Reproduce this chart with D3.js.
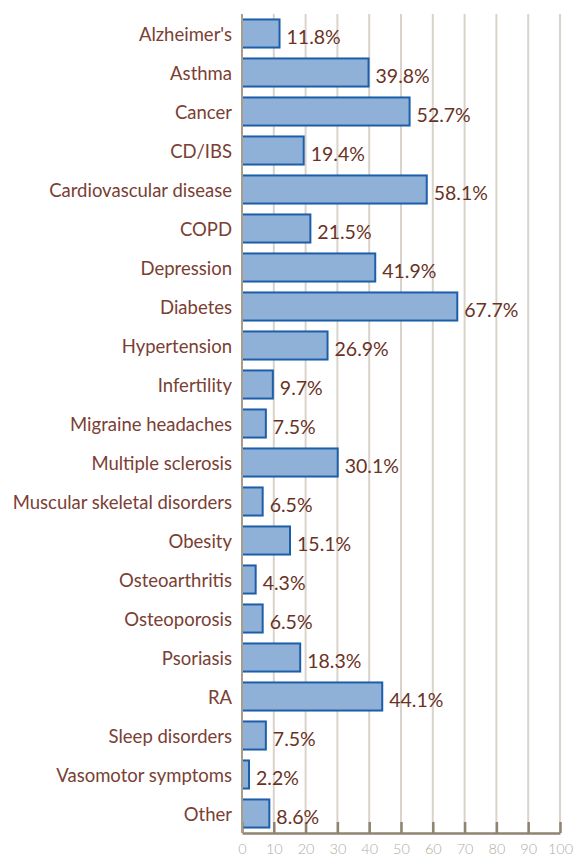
<!DOCTYPE html>
<html>
<head>
<meta charset="utf-8">
<script src="https://cdn.jsdelivr.net/npm/d3@7"></script>
<style>
  body { margin: 0; background: #fff; }
</style>
</head>
<body>
<div id="chart"></div>
<script>
// chart data
var categories = [
  "Alzheimer's", "Asthma", "Cancer", "CD/IBS", "Cardiovascular disease",
  "COPD", "Depression", "Diabetes", "Hypertension", "Infertility",
  "Migraine headaches", "Multiple sclerosis", "Muscular skeletal disorders",
  "Obesity", "Osteoarthritis", "Osteoporosis", "Psoriasis", "RA",
  "Sleep disorders", "Vasomotor symptoms", "Other"
];
var values = [
  11.8, 39.8, 52.7, 19.4, 58.1,
  21.5, 41.9, 67.7, 26.9, 9.7,
  7.5, 30.1, 6.5,
  15.1, 4.3, 6.5, 18.3, 44.1,
  7.5, 2.2, 8.6
];
var tickValues = [0, 10, 20, 30, 40, 50, 60, 70, 80, 90, 100];

var svgWidth = 576;
var svgHeight = 859;

var margin = { top: 14, right: 16, bottom: 26, left: 242 };
var width = svgWidth - margin.left - margin.right;
var height = svgHeight - margin.top - margin.bottom;

var data = categories.map(function(c, i) { return { name: c, value: values[i] }; });

var svg = d3.select("#chart")
  .append("svg")
  .attr("width", svgWidth)
  .attr("height", svgHeight);

var chartGroup = svg.append("g")
  .attr("transform", `translate(${margin.left}, ${margin.top})`);

// scales
var xScale = d3.scaleLinear().domain([0, 100]).range([0, width]);
var yScale = d3.scaleBand()
  .domain(categories)
  .range([0, height])
  .paddingInner(0.28)
  .paddingOuter(0.14);

// gridlines
chartGroup.selectAll("line.grid")
  .data(tickValues.slice(1))
  .enter()
  .append("line")
  .attr("class", "grid")
  .attr("x1", d => xScale(d))
  .attr("x2", d => xScale(d))
  .attr("y1", 0)
  .attr("y2", height)
  .attr("stroke", "#d9d3cb")
  .attr("stroke-width", 2);

// bars
chartGroup.selectAll("rect.bar")
  .data(data)
  .enter()
  .append("rect")
  .attr("class", "bar")
  .attr("x", xScale(0))
  .attr("y", d => yScale(d.name))
  .attr("width", d => xScale(d.value) - xScale(0))
  .attr("height", yScale.bandwidth())
  .attr("fill", "#8fb0d7")
  .attr("stroke", "#1d5ea9")
  .attr("stroke-width", 2);

// x axis
var xAxis = d3.axisBottom(xScale)
  .tickValues(tickValues)
  .tickSize(-11)
  .tickPadding(8)
  .tickSizeOuter(0);

var xAxisGroup = chartGroup.append("g")
  .attr("transform", `translate(0, ${height})`)
  .call(xAxis);

xAxisGroup.select(".domain").attr("stroke", "#8f8371").attr("stroke-width", 2.5);
xAxisGroup.selectAll(".tick line").attr("stroke", "#8f8371").attr("stroke-width", 2.5);
xAxisGroup.selectAll(".tick text")
  .attr("fill", "#b3ab9e")
  .attr("font-size", "14.5px")
  .attr("font-weight", 300)
  .attr("font-family", "Lato, sans-serif")
  .attr("dy", "0.9em");

// left axis line
chartGroup.append("line")
  .attr("x1", 0)
  .attr("x2", 0)
  .attr("y1", 0)
  .attr("y2", height)
  .attr("stroke", "#a89c8a")
  .attr("stroke-width", 2);

// category labels
chartGroup.selectAll("text.cat")
  .data(data)
  .enter()
  .append("text")
  .attr("class", "cat")
  .attr("x", -10)
  .attr("y", d => yScale(d.name) + yScale.bandwidth() / 2 + 1)
  .attr("dy", "0.35em")
  .attr("text-anchor", "end")
  .attr("font-family", "Lato, sans-serif")
  .attr("font-size", "18.5px")
  .attr("fill", "#7a4034")
  .text(d => d.name);

// value labels
chartGroup.selectAll("text.val")
  .data(data)
  .enter()
  .append("text")
  .attr("class", "val")
  .attr("x", d => xScale(d.value) + 7)
  .attr("y", d => yScale(d.name) + yScale.bandwidth() / 2 + 4)
  .attr("dy", "0.35em")
  .attr("font-family", "Lato, sans-serif")
  .attr("font-size", "19.5px")
  .attr("fill", "#6a3225")
  .text(d => d.value.toFixed(1) + "%");
</script>
</body>
</html>
